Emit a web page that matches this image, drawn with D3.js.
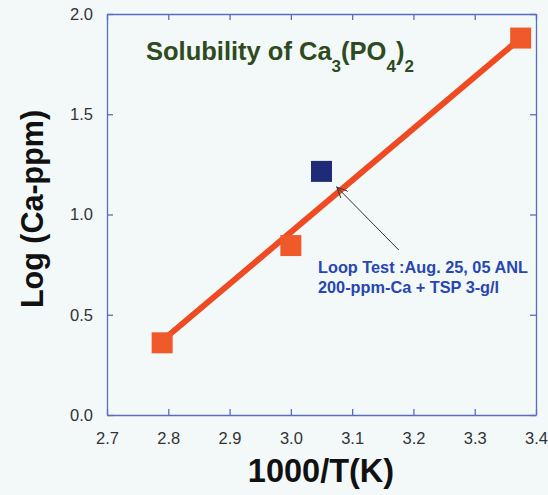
<!DOCTYPE html>
<html><head><meta charset="utf-8">
<script src="https://cdn.jsdelivr.net/npm/d3@7"></script>
<style>body{margin:0;background:#f3f9f9;}svg{display:block;}</style>
</head><body><svg id="c" width="548" height="495"></svg>
<script>
const xTicks = [2.7, 2.8, 2.9, 3.0, 3.1, 3.2, 3.3, 3.4];
const yTicks = [0.0, 0.5, 1.0, 1.5, 2.0];
const redX = [2.79, 3.00, 3.375];
const redY = [0.36, 0.845, 1.88];
const blueX = [3.05];
const blueY = [1.215];
const fitX = [2.79, 3.375];
const fitY = [0.37, 1.88];
const arrowFrom = [3.176, 0.823];
const arrowTo = [3.075, 1.137];
const noteLines = ["Loop Test :Aug. 25, 05 ANL", "200-ppm-Ca + TSP 3-g/l"];

const svg = d3.select("#c");
const x = d3.scaleLinear().domain([2.7, 3.4]).range([107, 536]);
const y = d3.scaleLinear().domain([0, 2]).range([415, 14]);
const axisCol = "#5a6cc0";
const FF = "Liberation Sans, Arial, sans-serif";

svg.append("rect").attr("width",548).attr("height",495).attr("fill","#f3f9f9");

function styleAxis(g){
  g.selectAll("path").attr("stroke", axisCol).attr("stroke-width",1.3);
  g.selectAll("line").attr("stroke", axisCol).attr("stroke-width",1.3);
  g.selectAll("text").attr("fill","#333").attr("font-family",FF).attr("font-size",16.5);
}
const gb = svg.append("g").attr("transform","translate(0,415)")
  .call(d3.axisBottom(x).tickValues(xTicks).tickFormat(d3.format(".1f")).tickSizeInner(-6).tickSizeOuter(0).tickPadding(17));
styleAxis(gb);
const gl = svg.append("g").attr("transform","translate(107,0)")
  .call(d3.axisLeft(y).tickValues(yTicks).tickFormat(d3.format(".1f")).tickSizeInner(-6).tickSizeOuter(0).tickPadding(14));
styleAxis(gl);
const gt = svg.append("g").attr("transform","translate(0,14)")
  .call(d3.axisTop(x).tickValues(xTicks).tickFormat("").tickSizeInner(-6).tickSizeOuter(0));
styleAxis(gt);
const gr = svg.append("g").attr("transform","translate(536,0)")
  .call(d3.axisRight(y).tickValues(yTicks).tickFormat("").tickSizeInner(-6).tickSizeOuter(0));
styleAxis(gr);

// fit line
svg.append("path").datum(fitX.map((d,i)=>[d,fitY[i]]))
  .attr("d", d3.line().x(d=>x(d[0])).y(d=>y(d[1])))
  .attr("stroke","#f04a22").attr("stroke-width",6).attr("fill","none");

const s = 21;
svg.selectAll("rect.red").data(redX).enter().append("rect").attr("class","red")
  .attr("x",(d)=>x(d)-s/2).attr("y",(d,i)=>y(redY[i])-s/2).attr("width",s).attr("height",s)
  .attr("fill","#f05a2a");
svg.selectAll("rect.blue").data(blueX).enter().append("rect").attr("class","blue")
  .attr("x",(d)=>x(d)-s/2).attr("y",(d,i)=>y(blueY[i])-s/2).attr("width",s).attr("height",s)
  .attr("fill","#1f2a78");

// arrow
svg.append("defs").append("marker").attr("id","ah").attr("viewBox","0 0 12 10").attr("refX",11).attr("refY",5)
  .attr("markerWidth",12).attr("markerHeight",10).attr("markerUnits","userSpaceOnUse").attr("orient","auto")
  .append("path").attr("d","M0,0 L11,5 L0,10").attr("fill","none").attr("stroke","#333").attr("stroke-width",1);
svg.append("line").attr("x1",x(arrowFrom[0])).attr("y1",y(arrowFrom[1])).attr("x2",x(arrowTo[0])).attr("y2",y(arrowTo[1]))
  .attr("stroke","#333").attr("stroke-width",1).attr("marker-end","url(#ah)");

svg.selectAll("text.note").data(noteLines).enter().append("text").attr("class","note")
  .attr("x",318).attr("y",(d,i)=>273+i*20).text(d=>d)
  .attr("fill","#2846b0").attr("font-family",FF).attr("font-weight","bold").attr("font-size",16.3);

// title
const t = svg.append("text").attr("x",146).attr("y",60).attr("fill","#2e4a20")
  .attr("font-family",FF).attr("font-weight","bold").attr("font-size",25.5);
t.append("tspan").text("Solubility of Ca");
t.append("tspan").text("3").attr("font-size",17).attr("dy",12);
t.append("tspan").text("(PO").attr("dy",-12);
t.append("tspan").text("4").attr("font-size",17).attr("dy",12);
t.append("tspan").text(")").attr("dy",-12);
t.append("tspan").text("2").attr("font-size",17).attr("dy",12);

// axis titles
svg.append("text").attr("x",321).attr("y",482).attr("text-anchor","middle").text("1000/T(K)")
  .attr("font-family",FF).attr("font-weight","bold").attr("font-size",32.5).attr("fill","#111");
svg.append("text").attr("transform","translate(43,209) rotate(-90)").attr("text-anchor","middle").text("Log (Ca-ppm)")
  .attr("font-family",FF).attr("font-weight","bold").attr("font-size",30.5).attr("fill","#111");
</script></body></html>
